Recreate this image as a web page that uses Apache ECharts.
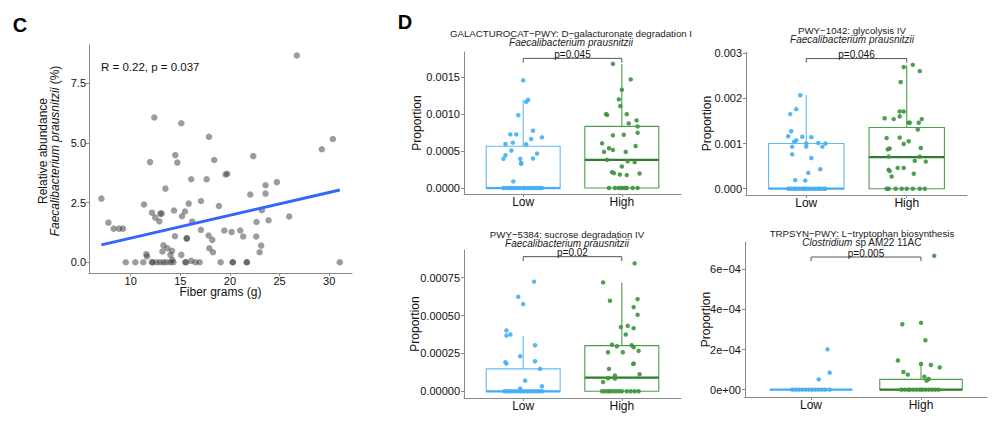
<!DOCTYPE html>
<html>
<head>
<meta charset="utf-8">
<script src="https://cdn.jsdelivr.net/npm/echarts@6/dist/echarts.min.js"></script>
<style>
html, body { margin: 0; padding: 0; background: #fff; }
#chart { width: 1000px; height: 437px; }
</style>
</head>
<body>
<div id="chart"></div>
<script>
// panel C: fiber intake vs relative abundance
var fiberGrams = [7.05, 7.75, 8.29, 8.83, 9.23, 9.5, 10.47, 11.27, 11.34, 11.58, 11.64, 11.95, 12.15, 12.2, 12.38,
    12.15, 12.48, 12.89, 12.99, 13.12, 12.6, 12.95, 13.3, 13.6, 13.2, 13.3, 13.5, 13.7, 14.0, 14.16, 14.0, 14.2, 14.3,
    14.36, 14.46, 14.5, 14.7, 15.1, 15.1, 15.17, 15.47, 15.64, 15.66, 15.5, 15.58, 15.84, 16.1, 16.2, 16.1, 16.54,
    16.95, 17.08, 17.08, 17.65, 17.85, 17.89, 17.92, 18.22, 18.29, 18.42, 18.89, 19.06, 19.43, 19.56, 19.73, 20.17,
    20.27, 20.3, 21.04, 21.34, 21.68, 21.72, 22.05, 22.35, 22.65, 22.68, 22.99, 23.15, 23.22, 23.59, 23.59, 23.89,
    24.73, 25.97, 26.74, 29.26, 30.37, 31.07];
var abundance = [2.67, 1.66, 1.41, 1.41, 1.41, 0, 0, 0, 2.42, 0.34, 0.24, 4.2, 0, 0, 6.07,
    2.08, 1.87, 1.72, 2.04, 2.04, 0, 0, 0, 0, 0.45, 0.71, 3.09, 0.59, 0.31, 0.48, 0, 0.1, 0,
    2.17, 1.09, 4.49, 4.18, 0.31, 5.83, 1.93, 2.13, 0.99, 1.01, 0, 0, 2.46, 3.48, 1.71, 0.06, 0,
    0, 2.57, 1.36, 3.48, 1.12, 5.26, 0.59, 0.94, 0.42, 4.29, 2.36, 0, 1.33, 3.68, 3.71, 1.27,
    0, 0, 1.33, 1.08, 0, 0, 2.84, 4.45, 1.08, 1.69, 0.42, 0.70, 2.18, 3.23, 2.88, 1.76,
    3.36, 1.92, 8.67, 4.74, 5.17, 0];
var fitX = [7.05, 31.07];
var fitY = [0.73, 3.03];
var cTicksX = [10, 15, 20, 25, 30];
var cLabelsX = ['10', '15', '20', '25', '30'];
var cTicksY = [0, 2.5, 5, 7.5];
var cLabelsY = ['0.0', '2.5', '5.0', '7.5'];

// panel D: pathway proportions, Low vs High fiber (jittered x)
var groupTicks = [1, 2];
var groupNames = ['Low', 'High'];

var galLowX = [1.0, 1.05, 1.03, 0.95, 0.87, 0.93, 0.82, 0.895, 1.10, 1.08, 1.19, 1.03, 0.88, 0.82, 0.80, 0.97, 1.14, 1.10, 0.98, 0.98, 0.90,
    0.80, 0.83, 0.86, 0.88, 0.91, 0.94, 0.97, 1.0, 1.02, 1.05, 1.08, 1.11, 1.14, 1.17, 1.19];
var galLowY = [0.001457, 0.001193, 0.001166, 0.000986, 0.000726, 0.000726, 0.000596, 0.000614, 0.000776, 0.000664, 0.000686,
    0.000592, 0.000507, 0.000444, 0.000395, 0.000395, 0.000466, 0.000399, 0.000341, 0.000327, 0.0000897,
    0, 0, 0, 0, 0, 0, 0, 0, 0, 0, 0, 0, 0, 0, 0];
var galHighX = [1.91, 2.09, 2.0, 1.97, 1.985, 1.84, 1.85, 2.05, 2.15, 2.07, 2.16, 1.91, 2.02, 2.16, 1.80, 1.87, 1.91, 1.82, 2.14,
    2.04, 1.85, 2.06, 2.13, 2.0, 1.90, 1.92, 1.98, 2.05, 2.18, 1.87, 1.93, 1.97, 2.0, 2.03, 2.05, 2.11, 2.16];
var galHighY = [0.00168, 0.00147, 0.00133, 0.0012, 0.00111, 0.001, 0.00099, 0.001, 0.000915, 0.000875, 0.000834, 0.000713,
    0.000722, 0.000749, 0.000605, 0.000538, 0.000516, 0.000489, 0.000569, 0.000489, 0.000381, 0.000363, 0.00035,
    0.000291, 0.000215, 0.000202, 0.000184, 0.000175, 0.000197, 0, 0, 0, 0, 0, 0, 0, 0];
var galBoxLow = [1, 0, 0, 0, 0.000566, 0.00119];   // x, lower, q1, median, q3, upper
var galBoxHigh = [2, 0, 0, 0.000381, 0.000834, 0.00168];
var galTicks = [0, 0.0005, 0.001, 0.0015];
var galLabels = ['0.0000', '0.0005', '0.0010', '0.0015'];

var glyLowX = [0.94, 0.90, 0.84, 0.85, 0.82, 0.88, 0.90, 0.96, 1.05, 1.0, 1.0, 1.12, 1.19, 1.16, 0.86, 0.86, 1.05, 1.14, 1.02, 0.89, 0.99,
    0.82, 0.85, 0.88, 0.9, 0.93, 0.96, 0.98, 1.0, 1.03, 1.06, 1.09, 1.12, 1.14, 1.17, 1.19];
var glyLowY = [0.002066, 0.00176, 0.00165, 0.00127, 0.00116, 0.00104, 0.00107, 0.00115, 0.00114, 0.001, 0.00093, 0.00101,
    0.001, 0.00093, 0.00093, 0.00076, 0.00068, 0.00043, 0.00035, 0.00019, 0.00018,
    0, 0, 0, 0, 0, 0, 0, 0, 0, 0, 0, 0, 0, 0, 0];
var glyHighX = [2.06, 1.97, 2.13, 1.94, 1.93, 1.97, 1.93, 2.02, 2.03, 2.15, 2.12, 1.78, 1.87, 2.11, 1.80, 1.93, 1.81, 1.83, 2.02,
    1.97, 2.14, 1.82, 2.13, 2.08, 2.19, 1.82, 1.83, 1.91, 1.97, 1.85, 2.07, 1.80, 1.82, 1.89, 1.95, 2.0, 2.06, 2.13, 2.18];
var glyHighY = [0.00274, 0.00269, 0.0026, 0.00236, 0.00171, 0.00171, 0.0016, 0.00146, 0.00146, 0.00154, 0.00146, 0.00156,
    0.00154, 0.00131, 0.00112, 0.00113, 0.00087, 0.00089, 0.00105, 0.00099, 0.0009, 0.00071, 0.00071, 0.00062, 0.0006,
    0.00042, 0.00039, 0.00046, 0.00046, 0.00027, 0.00033, 0, 0, 0, 0, 0, 0, 0, 0];
var glyBoxLow = [1, 0, 0, 0, 0.001, 0.002066];
var glyBoxHigh = [2, 0, 0, 0.0007, 0.001355, 0.00273];
var glyTicks = [0, 0.001, 0.002, 0.003];
var glyLabels = ['0.000', '0.001', '0.002', '0.003'];

var sucLowX = [1.11, 0.95, 1.0, 0.83, 0.83, 0.87, 1.12, 0.97, 1.12, 0.82, 0.83, 1.17, 1.02, 1.19, 0.97,
    0.81, 0.84, 0.87, 0.89, 0.92, 0.95, 0.98, 1.01, 1.04, 1.07, 1.1, 1.13, 1.16, 1.19];
var sucLowY = [0.000724, 0.000624, 0.000576, 0.000402, 0.000368, 0.000375, 0.000304, 0.000232, 0.000199, 0.000192, 0.000183,
    0.000148, 0.0000706, 0.0000331, 0.0000177, 0, 0, 0, 0, 0, 0, 0, 0, 0, 0, 0, 0, 0, 0];
var sucHighX = [2.13, 1.81, 1.88, 2.16, 2.12, 2.16, 2.06, 1.99, 2.12, 2.04, 1.90, 1.95, 2.10, 2.12, 2.17, 1.86, 2.01, 2.12, 2.115,
    1.87, 2.18, 1.93, 1.93, 1.86, 1.81, 1.80, 1.83, 1.86, 1.88, 1.91, 1.94, 1.97, 2.0, 2.05, 2.09, 2.13, 2.17];
var sucHighY = [0.000845, 0.000719, 0.000598, 0.000609, 0.000556, 0.000505, 0.000432, 0.000424, 0.000417, 0.000375, 0.000307,
    0.000298, 0.000304, 0.000291, 0.000267, 0.000258, 0.000258, 0.000183, 0.000181, 0.000148, 0.000113, 0.000104,
    0.0000838, 0.000086, 0.0000618, 0, 0, 0, 0, 0, 0, 0, 0, 0, 0, 0, 0];
var sucBoxLow = [1, 0, 0, 0, 0.000148, 0.000366];
var sucBoxHigh = [2, 0, 0, 0.0000905, 0.000302, 0.000717];
var sucTicks = [0, 0.00025, 0.0005, 0.00075];
var sucLabels = ['0.00000', '0.00025', '0.00050', '0.00075'];

var trpLowX = [1.15, 1.17, 1.07, 0.83, 0.86, 0.89, 0.92, 0.95, 0.98, 1.01, 1.04, 1.07, 1.1, 1.13, 1.17];
var trpLowY = [0.000201, 0.0000848, 0.0000515, 0, 0, 0, 0, 0, 0, 0, 0, 0, 0, 0, 0];
var trpHighX = [2.12, 2.0, 1.83, 2.04, 1.79, 2.0, 2.09, 2.17, 1.84, 1.88, 2.03, 2.07, 2.05,
    1.82, 1.85, 1.88, 1.9, 1.93, 1.96, 1.99, 2.01, 2.04, 2.07, 2.1, 2.13, 2.16];
var trpHighY = [0.000667, 0.000333, 0.000326, 0.000246, 0.000145, 0.000128, 0.000123, 0.000111, 0.0000881, 0.0000748,
    0.0000648, 0.0000532, 0.0000449, 0, 0, 0, 0, 0, 0, 0, 0, 0, 0, 0, 0, 0];
var trpBoxLow = [1, 0, 0, 0, 0, 0];
var trpBoxHigh = [2, 0, 0, 0, 0.0000515, 0.000125];
var trpTicks = [0, 0.0002, 0.0004, 0.0006];
var trpLabels = ['0e+00', '2e\u221204', '4e\u221204', '6e\u221204'];

// significance brackets: [x1, x2, bar y, drop y]
var galBracket = [1, 2, 0.001755, 0.001696];
var glyBracket = [1, 2, 0.002879, 0.00279];
var sucBracket = [1, 2, 0.000889, 0.00086];
var trpBracket = [1, 2, 0.000661, 0.000641];
var pLabels = ['p=0.045', 'p=0.046', 'p=0.02', 'p=0.005'];

var FONT = 'Liberation Sans, Arial, Helvetica, sans-serif';
var AXIS_COLOR = '#8a8a8a';
var LOW_COLOR = '#45aef3';
var LOW_BOX = '#62bbf4';
var HIGH_COLOR = '#3d953d';
var HIGH_BOX = '#4f9e4f';
var HIGH_MED = '#2c7d2c';

function zip(xs, ys) {
    var out = [];
    for (var i = 0; i < xs.length; i++) {
        out.push([xs[i], ys[i]]);
    }
    return out;
}

function pickLabel(ticks, labels, v) {
    var best = 0;
    for (var i = 1; i < ticks.length; i++) {
        if (Math.abs(ticks[i] - v) < Math.abs(ticks[best] - v)) best = i;
    }
    return labels[best];
}

function valueAxis(grid, min, max, ticks, labels, margin, size, extra) {
    var ax = {
        type: 'value',
        gridIndex: grid,
        min: min,
        max: max,
        nameMoveOverlap: false,
        axisLine: { show: true, onZero: false, lineStyle: { color: AXIS_COLOR, width: 1 } },
        axisTick: { show: true, length: 3, customValues: ticks, lineStyle: { color: AXIS_COLOR } },
        axisLabel: {
            customValues: ticks,
            fontSize: size,
            fontFamily: FONT,
            color: '#111',
            margin: margin,
            formatter: function(v) { return pickLabel(ticks, labels, v); }
        },
        splitLine: { show: false }
    };
    for (var k in extra) ax[k] = extra[k];
    return ax;
}

function boxSeries(k, stats, boxColor, medColor) {
    return {
        type: 'custom',
        xAxisIndex: k,
        yAxisIndex: k,
        silent: true,
        z: 2,
        data: [stats],
        renderItem: function(params, api) {
            var x = api.value(0);
            var half = 0.375;
            var lo = api.coord([x, api.value(1)]);
            var q1 = api.coord([x, api.value(2)]);
            var med = api.coord([x, api.value(3)]);
            var q3 = api.coord([x, api.value(4)]);
            var hi = api.coord([x, api.value(5)]);
            var left = api.coord([x - half, 0])[0];
            var right = api.coord([x + half, 0])[0];
            return {
                type: 'group',
                children: [
                    { type: 'line', shape: { x1: hi[0], y1: hi[1], x2: q3[0], y2: q3[1] }, style: { stroke: boxColor, lineWidth: 1.1 } },
                    { type: 'line', shape: { x1: lo[0], y1: lo[1], x2: q1[0], y2: q1[1] }, style: { stroke: boxColor, lineWidth: 1.1 } },
                    { type: 'rect', shape: { x: left, y: q3[1], width: right - left, height: q1[1] - q3[1] },
                      style: { fill: 'none', stroke: boxColor, lineWidth: 1.1 } },
                    { type: 'line', shape: { x1: left, y1: med[1], x2: right, y2: med[1] }, style: { stroke: medColor, lineWidth: 2.3 } }
                ]
            };
        }
    };
}

function bracketSeries(k, br, label) {
    return {
        type: 'custom',
        xAxisIndex: k,
        yAxisIndex: k,
        silent: true,
        clip: false,
        z: 4,
        data: [br],
        renderItem: function(params, api) {
            var a = api.coord([api.value(0), api.value(3)]);
            var b = api.coord([api.value(0), api.value(2)]);
            var c = api.coord([api.value(1), api.value(2)]);
            var d = api.coord([api.value(1), api.value(3)]);
            return {
                type: 'group',
                children: [
                    { type: 'polyline', shape: { points: [a, b, c, d] }, style: { fill: 'none', stroke: '#555', lineWidth: 1 } },
                    { type: 'text', x: (b[0] + c[0]) / 2, y: b[1] + 1,
                      style: { text: label, fill: '#111', fontSize: 10, fontFamily: FONT,
                               align: 'center', verticalAlign: 'bottom', textAlign: 'center', textVerticalAlign: 'bottom' } }
                ]
            };
        }
    };
}

function dots(k, xs, ys, color) {
    return {
        type: 'scatter',
        xAxisIndex: k,
        yAxisIndex: k,
        symbolSize: 4.5,
        z: 3,
        itemStyle: { color: color, opacity: 0.9 },
        data: zip(xs, ys)
    };
}

function groupAxis(k) {
    return valueAxis(k, 0.4, 2.6, groupTicks, groupNames, 2, 12, {});
}

function propAxis(k, min, max, ticks, labels, gap) {
    return valueAxis(k, min, max, ticks, labels, 4, 11, {
        name: 'Proportion',
        nameLocation: 'middle',
        nameRotate: 90,
        nameGap: gap,
        nameTextStyle: { fontSize: 12, fontFamily: FONT, color: '#111' }
    });
}

// two-line panel title as one text block
function panelTitle(x, y, line1, line2) {
    return {
        type: 'text', x: x, y: y,
        style: {
            text: '{t|' + line1 + '}\n' + line2,
            fill: '#222', fontSize: 10, fontFamily: FONT, lineHeight: 9,
            align: 'center', verticalAlign: 'middle',
            rich: {
                t: { fontSize: 9.7, fontFamily: FONT, fill: '#222', lineHeight: 9 },
                i: { fontSize: 10, fontFamily: FONT, fill: '#222', lineHeight: 9, fontStyle: 'italic' },
                n: { fontSize: 10, fontFamily: FONT, fill: '#222', lineHeight: 9 }
            }
        }
    };
}

var chart = echarts.init(document.getElementById('chart'), null, { renderer: 'svg' });

var option = {
    backgroundColor: '#fff',
    animation: false,
    textStyle: { fontFamily: FONT },
    grid: [
        { left: 89, top: 45, width: 263, height: 228, outerBoundsMode: 'none' },
        { left: 464, top: 52, width: 217, height: 142, outerBoundsMode: 'none' },
        { left: 746, top: 52, width: 221, height: 143, outerBoundsMode: 'none' },
        { left: 464, top: 250, width: 217, height: 148, outerBoundsMode: 'none' },
        { left: 745, top: 242, width: 242, height: 155, outerBoundsMode: 'none' }
    ],
    xAxis: [
        valueAxis(0, 5.8, 32.3, cTicksX, cLabelsX, 2, 11, {
            name: 'Fiber grams (g)', nameLocation: 'middle', nameGap: 13,
            nameTextStyle: { fontSize: 12, fontFamily: FONT, color: '#111' }
        }),
        groupAxis(1),
        groupAxis(2),
        groupAxis(3),
        groupAxis(4)
    ],
    yAxis: [
        valueAxis(0, -0.45, 9.11, cTicksY, cLabelsY, 3, 11, {
            name: '{a|Relative abundance}\n{b|Faecalibacterium prausnitzii}{a| (%)}',
            nameLocation: 'middle', nameRotate: 90, nameGap: 28,
            nameTextStyle: {
                fontSize: 12, fontFamily: FONT, color: '#111', lineHeight: 12,
                padding: [0, 0, 0, 16],
                rich: {
                    a: { fontSize: 12, fontFamily: FONT, color: '#111', lineHeight: 12 },
                    b: { fontSize: 12, fontFamily: FONT, color: '#111', lineHeight: 12, fontStyle: 'italic' }
                }
            }
        }),
        propAxis(1, -0.0000808, 0.001841, galTicks, galLabels, 41),
        propAxis(2, -0.000139, 0.003024, glyTicks, glyLabels, 33),
        propAxis(3, -0.0000441, 0.000933, sucTicks, sucLabels, 43),
        propAxis(4, -0.0000366, 0.000736, trpTicks, trpLabels, 33)
    ],
    graphic: [
        { type: 'text', x: 20, y: 25, style: { text: 'C', fontSize: 20, fontWeight: 'bold', fontFamily: FONT, fill: '#000', align: 'center', verticalAlign: 'middle' } },
        { type: 'text', x: 405, y: 22, style: { text: 'D', fontSize: 20, fontWeight: 'bold', fontFamily: FONT, fill: '#000', align: 'center', verticalAlign: 'middle' } },
        { type: 'text', x: 101, y: 67, style: { text: 'R = 0.22, p = 0.037', fontSize: 11.5, fontFamily: FONT, fill: '#111', align: 'left', verticalAlign: 'middle' } },
        panelTitle(571, 38, 'GALACTUROCAT\u2212PWY: D\u2212galacturonate degradation I', '{i|Faecalibacterium prausnitzii}'),
        panelTitle(852, 34.5, 'PWY\u22121042: glycolysis IV', '{i|Faecalibacterium prausnitzii}'),
        panelTitle(567, 238.7, 'PWY\u22125384: sucrose degradation IV', '{i|Faecalibacterium prausnitzii}'),
        panelTitle(862, 238, 'TRPSYN\u2212PWY: L\u2212tryptophan biosynthesis', '{i|Clostridium}{n| sp AM22 11AC}')
    ],
    series: [
        {
            type: 'scatter',
            xAxisIndex: 0,
            yAxisIndex: 0,
            symbolSize: 6.5,
            itemStyle: { color: 'rgba(55,55,55,0.62)' },
            data: zip(fiberGrams, abundance)
        },
        {
            type: 'line',
            xAxisIndex: 0,
            yAxisIndex: 0,
            showSymbol: false,
            z: 4,
            lineStyle: { color: '#3366ff', width: 3 },
            data: zip(fitX, fitY)
        },
        boxSeries(1, galBoxLow, LOW_BOX, LOW_COLOR),
        boxSeries(1, galBoxHigh, HIGH_BOX, HIGH_MED),
        dots(1, galLowX, galLowY, LOW_COLOR),
        dots(1, galHighX, galHighY, HIGH_COLOR),
        bracketSeries(1, galBracket, pLabels[0]),

        boxSeries(2, glyBoxLow, LOW_BOX, LOW_COLOR),
        boxSeries(2, glyBoxHigh, HIGH_BOX, HIGH_MED),
        dots(2, glyLowX, glyLowY, LOW_COLOR),
        dots(2, glyHighX, glyHighY, HIGH_COLOR),
        bracketSeries(2, glyBracket, pLabels[1]),

        boxSeries(3, sucBoxLow, LOW_BOX, LOW_COLOR),
        boxSeries(3, sucBoxHigh, HIGH_BOX, HIGH_MED),
        dots(3, sucLowX, sucLowY, LOW_COLOR),
        dots(3, sucHighX, sucHighY, HIGH_COLOR),
        bracketSeries(3, sucBracket, pLabels[2]),

        boxSeries(4, trpBoxLow, LOW_BOX, LOW_COLOR),
        boxSeries(4, trpBoxHigh, HIGH_BOX, HIGH_MED),
        dots(4, trpLowX, trpLowY, LOW_COLOR),
        dots(4, trpHighX, trpHighY, HIGH_COLOR),
        bracketSeries(4, trpBracket, pLabels[3])
    ]
};

chart.setOption(option);
</script>
</body>
</html>
